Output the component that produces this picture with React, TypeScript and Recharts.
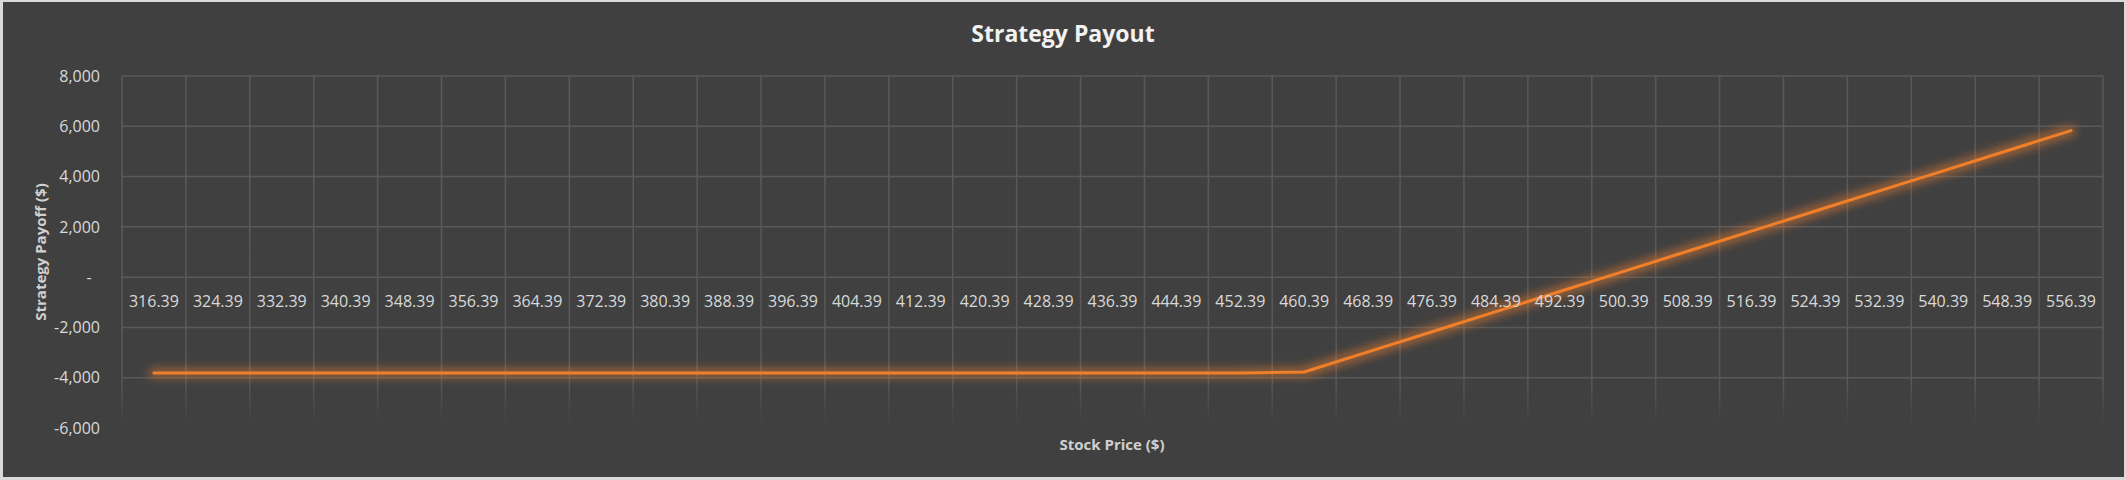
import { CartesianGrid, Line, LineChart, XAxis, YAxis } from "recharts";

const W = 2126;
const H = 480;
const PLOT_TOP = 76;
const PLOT_BOTTOM = 428;
const X_AXIS_H = 20;
const FONT = "'Open Sans', 'Noto Sans', sans-serif";

const prices = [
  "316.39", "324.39", "332.39", "340.39", "348.39", "356.39", "364.39", "372.39",
  "380.39", "388.39", "396.39", "404.39", "412.39", "420.39", "428.39", "436.39",
  "444.39", "452.39", "460.39", "468.39", "476.39", "484.39", "492.39", "500.39",
  "508.39", "516.39", "524.39", "532.39", "540.39", "548.39", "556.39",
];

const payoff = [
  -3810, -3810, -3810, -3810, -3810, -3810, -3810, -3810,
  -3810, -3810, -3810, -3810, -3810, -3810, -3810, -3810,
  -3810, -3810, -3771, -2971, -2171, -1371, -571, 229,
  1029, 1829, 2629, 3429, 4229, 5029, 5829,
];

const yTicks = [-6000, -4000, -2000, 0, 2000, 4000, 6000, 8000];
const yGridValues = [-4000, -2000, 0, 2000, 4000, 6000, 8000];
const Y_MIN = -6000;
const Y_MAX = 8000;

const data = prices.map((price, i) => ({ price, payoff: payoff[i] }));

// y pixel of the zero line, where the category labels sit (axis crosses at 0)
const ZERO_Y = PLOT_TOP + ((PLOT_BOTTOM - PLOT_TOP) * Y_MAX) / (Y_MAX - Y_MIN);

function PriceTick(props: any) {
  const { x, payload } = props;
  return (
    <text x={x} y={ZERO_Y + 30} textAnchor="middle" fill="#d9d9d9" fontSize={16} fontFamily={FONT}>
      {payload.value}
    </text>
  );
}

const fmtY = (v: number) => (v === 0 ? "-\u00A0\u00A0" : v.toLocaleString("en-US"));

export default function App() {
  return (
    <div
      style={{
        position: "fixed",
        left: 0,
        top: 0,
        width: W,
        height: H,
        background: "#404040",
        fontFamily: FONT,
      }}
    >
      <svg width={0} height={0} style={{ position: "absolute" }}>
        <defs>
          <linearGradient id="vfade" gradientUnits="userSpaceOnUse" x1="0" y1={PLOT_TOP} x2="0" y2={PLOT_BOTTOM}>
            <stop offset="0" stopColor="#595959" stopOpacity={1} />
            <stop offset="0.86" stopColor="#595959" stopOpacity={1} />
            <stop offset="0.99" stopColor="#595959" stopOpacity={0} />
          </linearGradient>
          <filter id="glow" filterUnits="userSpaceOnUse" x="0" y="0" width={W} height={H}>
            <feMorphology in="SourceGraphic" operator="dilate" radius="3" result="thick" />
            <feGaussianBlur in="thick" stdDeviation="5" result="blur" />
            <feComponentTransfer in="blur" result="soft">
              <feFuncA type="linear" slope="0.55" />
            </feComponentTransfer>
            <feMerge>
              <feMergeNode in="soft" />
              <feMergeNode in="SourceGraphic" />
            </feMerge>
          </filter>
        </defs>
      </svg>

      <div style={{ position: "absolute", left: 0, top: 0 }}>
        <LineChart
          width={W}
          height={H}
          data={data}
          margin={{ top: PLOT_TOP, right: 23, bottom: H - PLOT_BOTTOM - X_AXIS_H, left: 0 }}
        >
          <CartesianGrid vertical={false} stroke="#595959" strokeWidth={1.5} horizontalValues={yGridValues} />
          <CartesianGrid
            horizontal={false}
            stroke="url(#vfade)"
            strokeWidth={1.5}
            verticalCoordinatesGenerator={({ offset }: any) =>
              prices.concat("").map((_, i) => offset.left + (offset.width * i) / prices.length)
            }
          />
          <XAxis
            dataKey="price"
            scale="band"
            interval={0}
            height={X_AXIS_H}
            axisLine={false}
            tickLine={false}
            tick={PriceTick}
          />
          <YAxis
            type="number"
            domain={[Y_MIN, Y_MAX]}
            ticks={yTicks}
            width={122}
            axisLine={false}
            tickLine={false}
            tickSize={0}
            tickMargin={22}
            tickFormatter={fmtY}
            tick={{ fill: "#d9d9d9", fontSize: 16, fontFamily: FONT }}
          />
          <Line
            type="linear"
            dataKey="payoff"
            stroke="#F07F2C"
            strokeWidth={3}
            strokeLinecap="round"
            dot={false}
            filter="url(#glow)"
            isAnimationActive={false}
          />
        </LineChart>
      </div>

      <svg width={W} height={H} style={{ position: "absolute", left: 0, top: 0, pointerEvents: "none" }}>
        <text x={W / 2} y={42} textAnchor="middle" fill="#f2f2f2" fontSize={23} fontWeight={700} fontFamily={FONT}>
          Strategy Payout
        </text>
        <text x={1112} y={450} textAnchor="middle" fill="#d0d0d0" fontSize={15} fontWeight={700} fontFamily={FONT}>
          Stock Price ($)
        </text>
        <text
          transform="translate(46,252) rotate(-90)"
          textAnchor="middle"
          fill="#d0d0d0"
          fontSize={15}
          fontWeight={700}
          fontFamily={FONT}
        >
          Strategy Payoff ($)
        </text>
      </svg>

      <div
        style={{
          position: "absolute",
          inset: 0,
          borderStyle: "solid",
          borderColor: "#d9d9d9",
          borderWidth: "2px 2px 3px 3px",
          boxSizing: "border-box",
          pointerEvents: "none",
        }}
      />
    </div>
  );
}
